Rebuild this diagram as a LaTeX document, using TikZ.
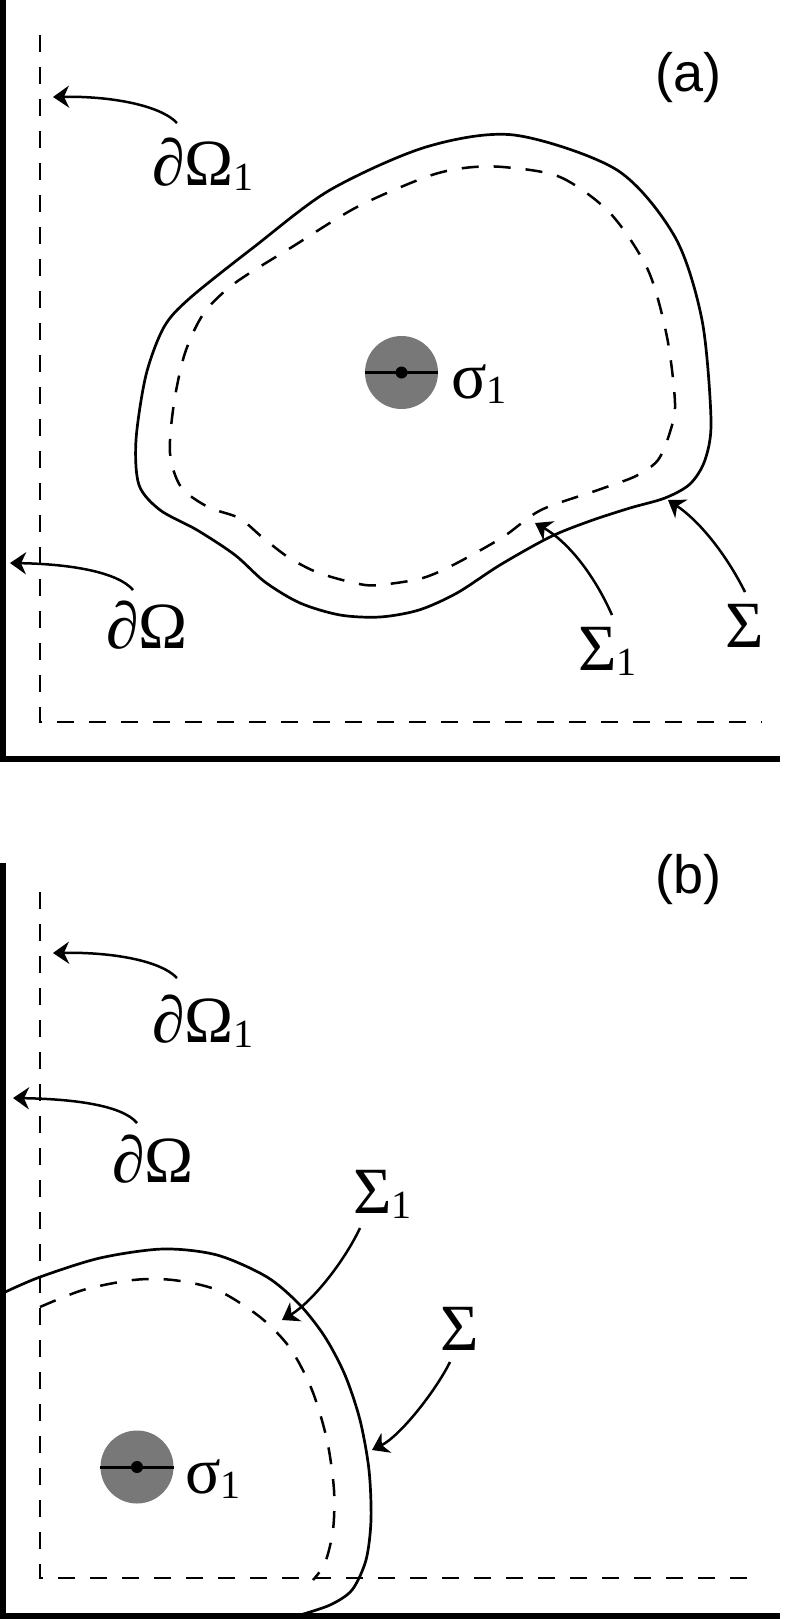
\documentclass[tikz,border=0pt]{standalone}
\usepackage{fontspec}
\setmainfont{Liberation Serif}
\newfontfamily\panelfont{Liberation Sans}
\usetikzlibrary{arrows.meta}
\definecolor{discgray}{RGB}{120,120,120}
\newcommand{\lo}[1]{\raisebox{-5pt}{\fontsize{40}{40}\selectfont #1}}

\begin{document}
\begin{tikzpicture}[x=1pt,y=-1pt,
  wall/.style={line width=6.5pt},
  bnd/.style={line width=2.5pt,dash pattern=on 17pt off 15pt},
  surf/.style={line width=2.7pt},
  ptr/.style={line width=2.5pt,-{Stealth[length=16pt,width=22pt,inset=5pt]}},
  lbl/.style={inner sep=0pt,anchor=base west,font=\fontsize{66}{66}\selectfont},
  tag/.style={inner sep=0pt,anchor=base west,font=\panelfont\fontsize{54}{54}\selectfont},
  disc/.style={circle,fill=discgray,minimum size=73pt,inner sep=0pt}]
\useasboundingbox (0,0) rectangle (787,1619);

% (a)
\draw[wall] (3,0) -- (3,759) -- (780,759);
\draw[bnd] (40,35) -- (40,722) -- (762,722);
\draw[surf] plot[smooth cycle] coordinates {(514,135) (617,170) (675,237) (702,320)
  (711,420) (705,460) (690,484) (665,498) (630,508) (590,521) (550,537) (500,565)
  (457,593) (419,610) (380,617) (340,615) (300,603) (265,582) (235,555) (197,530)
  (160,510) (139,485) (136,440) (146,375) (164,327) (190,298) (254,247) (330,190)
  (426,147)};
\draw[bnd] plot[smooth cycle] coordinates {(503,167) (560,177) (610,213) (648,270)
  (667,337) (675,403) (670,432) (658,460) (636,476) (598,490) (541,510) (503,537)
  (457,563) (426,577) (396,583) (365,585) (319,573) (288,557) (262,537) (239,518)
  (208,507) (181,487) (170,453) (174,403) (185,353) (204,313) (235,283) (292,247)
  (357,207) (426,177) (464,168)};
\node[disc] (src-a) at (401.5,372.5) {};
\draw[line width=3pt] (src-a.west) -- (src-a.east);
\fill (src-a) circle (6);
\node[lbl] (sig-a) at (451,398) {σ\lo{1}};
\node[tag] (tag-a) at (655,91) {(a)};
\node[lbl] (dO1-a) at (152,185) {∂Ω\lo{1}};
\node[lbl] (dO-a) at (106,648) {∂Ω};
\node[lbl] (S1-a) at (578,670) {Σ\lo{1}};
\node[lbl] (S-a) at (725,647) {Σ};
\coordinate (t-dO1-a) at (177,123);
\coordinate (h-dO1-a) at (53,97);
\coordinate (t-dO-a) at (133,590);
\coordinate (h-dO-a) at (10,563);
\coordinate (t-S1-a) at (612,615);
\coordinate (h-S1-a) at (535,523);
\coordinate (t-S-a) at (745,592);
\coordinate (h-S-a) at (668,500);
\draw[ptr] (t-dO1-a) .. controls (160,105) and (110,96) .. (h-dO1-a);
\draw[ptr] (t-dO-a) .. controls (118,572) and (70,564) .. (h-dO-a);
\draw[ptr] (t-S1-a) .. controls (592,570) and (565,540) .. (h-S1-a);
\draw[ptr] (t-S-a) .. controls (725,552) and (698,520) .. (h-S-a);

% (b)
\draw[wall] (3,863) -- (3,1616) -- (780,1616);
\draw[bnd] (40,892) -- (40,1578) -- (760,1578);
\draw[surf] plot[smooth] coordinates {(3,1293) (40,1277) (100,1258) (163,1249)
  (217,1255) (267,1277) (300,1305) (325,1337) (345,1375) (360,1420) (369,1470)
  (371,1520) (366,1560) (352,1590) (330,1605) (300,1615)};
\draw[bnd] plot[smooth] coordinates {(40,1307) (83,1290) (133,1280) (173,1280)
  (217,1290) (260,1317) (290,1348) (312,1390) (327,1440) (334,1490) (333,1530)
  (325,1563) (313,1580)};
\node[disc] (src-b) at (137,1467) {};
\draw[line width=3pt] (src-b.west) -- (src-b.east);
\fill (src-b) circle (6);
\node[lbl] (sig-b) at (185,1493) {σ\lo{1}};
\node[tag] (tag-b) at (655,893) {(b)};
\node[lbl] (dO1-b) at (152,1042) {∂Ω\lo{1}};
\node[lbl] (dO-b) at (112,1182) {∂Ω};
\node[lbl] (S1-b) at (353,1213) {Σ\lo{1}};
\node[lbl] (S-b) at (440,1350) {Σ};
\coordinate (t-dO1-b) at (177,978);
\coordinate (h-dO1-b) at (53,953);
\coordinate (t-dO-b) at (137,1123);
\coordinate (h-dO-b) at (13,1098);
\coordinate (t-S1-b) at (360,1228);
\coordinate (h-S1-b) at (282,1320);
\coordinate (t-S-b) at (450,1362);
\coordinate (h-S-b) at (372,1450);
\draw[ptr] (t-dO1-b) .. controls (160,960) and (110,952) .. (h-dO1-b);
\draw[ptr] (t-dO-b) .. controls (122,1105) and (73,1099) .. (h-dO-b);
\draw[ptr] (t-S1-b) .. controls (344,1262) and (312,1302) .. (h-S1-b);
\draw[ptr] (t-S-b) .. controls (435,1392) and (400,1436) .. (h-S-b);
\end{tikzpicture}
\end{document}
